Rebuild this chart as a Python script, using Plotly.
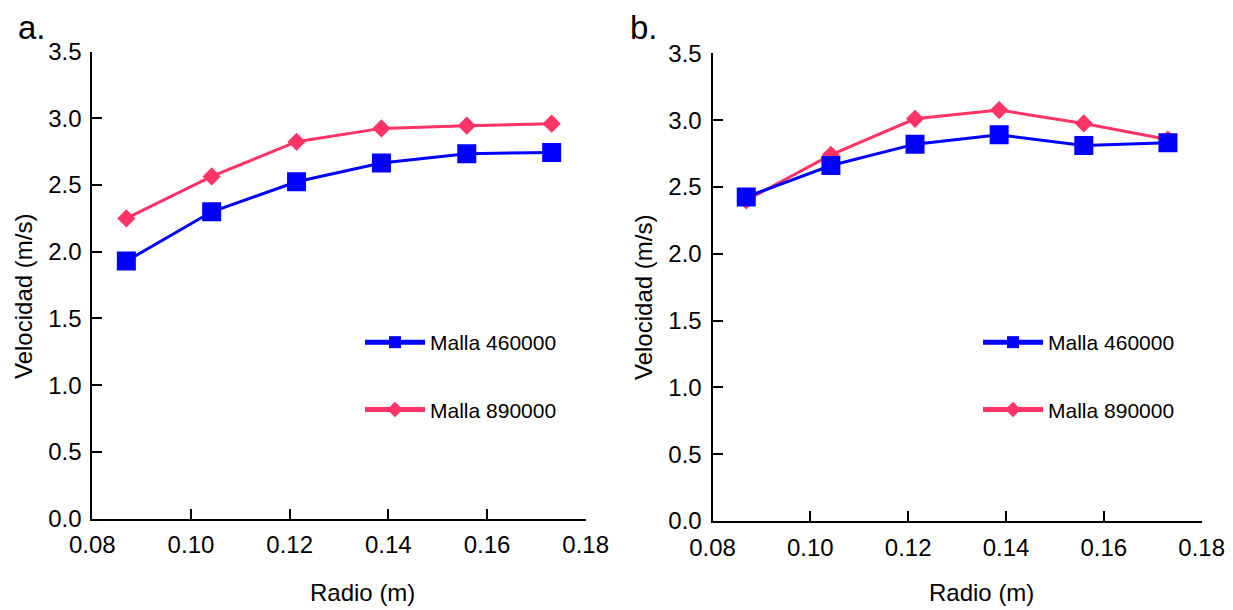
import plotly.graph_objects as go

# ---- data ----
radio = [0.0869, 0.1042, 0.1214, 0.1386, 0.1559, 0.1731]
a_460 = [1.93, 2.30, 2.525, 2.665, 2.735, 2.745]
a_890 = [2.25, 2.565, 2.825, 2.925, 2.945, 2.96]
b_460 = [2.425, 2.66, 2.82, 2.89, 2.81, 2.83]
b_890 = [2.40, 2.74, 3.01, 3.075, 2.975, 2.855]
names = ["Malla 460000", "Malla 890000"]
x_ticks = [0.08, 0.10, 0.12, 0.14, 0.16, 0.18]
y_ticks = [0.0, 0.5, 1.0, 1.5, 2.0, 2.5, 3.0, 3.5]

BLUE = "#0000FF"
RED = "#FF3366"
FONT = "Liberation Sans, Arial, sans-serif"
W, H = 1233, 610

fig = go.Figure()

def add_panel(ys460, ys890, xa, ya, leg):
    # red drawn first so the blue squares sit on top
    fig.add_trace(go.Scatter(
        x=radio, y=ys890, name=names[1], mode="lines+markers",
        line=dict(color=RED, width=3),
        marker=dict(symbol="diamond", size=14, color=RED),
        xaxis=xa, yaxis=ya, legend=leg, legendgroup=leg + "g2", legendrank=2))
    fig.add_trace(go.Scatter(
        x=radio, y=ys460, name=names[0], mode="lines+markers",
        line=dict(color=BLUE, width=3),
        marker=dict(symbol="square", size=19, color=BLUE),
        xaxis=xa, yaxis=ya, legend=leg, legendgroup=leg + "g1", legendrank=1))

add_panel(a_460, a_890, "x", "y", "legend")
add_panel(b_460, b_890, "x2", "y2", "legend2")

ax_common = dict(
    showline=True, linecolor="black", linewidth=2,
    ticks="inside", ticklen=10, tickwidth=2, tickcolor="black",
    showgrid=False, zeroline=False, automargin=False,
    tickfont=dict(family=FONT, size=24, color="black"),
)

fig.update_layout(
    template="none",
    width=W, height=H,
    margin=dict(l=0, r=0, t=0, b=0, pad=0, autoexpand=False),
    paper_bgcolor="white", plot_bgcolor="white",
    font=dict(family=FONT, color="black"),
    xaxis=dict(domain=[92.3 / W, 585.7 / W], range=[0.08, 0.18],
               tickvals=x_ticks, ticktext=[f"{v:.2f}" for v in x_ticks],
               anchor="y", ticklabelstandoff=4, **ax_common),
    yaxis=dict(domain=[1 - 518.5 / H, 1 - 51.7 / H], range=[0, 3.5],
               tickvals=y_ticks, ticktext=[f"{v:.1f}" for v in y_ticks],
               anchor="x", ticklabelstandoff=4, **ax_common),
    xaxis2=dict(domain=[712.5 / W, 1201.7 / W], range=[0.08, 0.18],
                tickvals=x_ticks, ticktext=[f"{v:.2f}" for v in x_ticks],
                anchor="y2", ticklabelstandoff=4, **ax_common),
    yaxis2=dict(domain=[1 - 521 / H, 1 - 53.3 / H], range=[0, 3.5],
                tickvals=y_ticks, ticktext=[f"{v:.1f}" for v in y_ticks],
                anchor="x2", ticklabelstandoff=4, **ax_common),
    legend=dict(x=360 / W, y=1 - 322 / H, xanchor="left", yanchor="top",
                bgcolor="rgba(0,0,0,0)", font=dict(family=FONT, size=21),
                itemsizing="constant", itemwidth=60, tracegroupgap=37,
                traceorder="grouped"),
    legend2=dict(x=978 / W, y=1 - 322 / H, xanchor="left", yanchor="top",
                 bgcolor="rgba(0,0,0,0)", font=dict(family=FONT, size=21),
                 itemsizing="constant", itemwidth=60, tracegroupgap=37,
                 traceorder="grouped"),
    showlegend=True,
)

annos = [
    dict(text="a.", x=32 / W, y=1 - 28 / H, font=dict(size=33)),
    dict(text="b.", x=644 / W, y=1 - 28 / H, font=dict(size=33)),
    dict(text="Radio (m)", x=363 / W, y=1 - 592 / H, font=dict(size=24)),
    dict(text="Radio (m)", x=982 / W, y=1 - 592 / H, font=dict(size=24)),
    dict(text="Velocidad (m/s)", x=24 / W, y=1 - 297 / H, font=dict(size=24), textangle=-90),
    dict(text="Velocidad (m/s)", x=644 / W, y=1 - 298 / H, font=dict(size=24), textangle=-90),
]
for a in annos:
    a["font"]["family"] = FONT
    a["font"]["color"] = "black"
    fig.add_annotation(xref="paper", yref="paper", showarrow=False,
                       xanchor="center", yanchor="middle", **a)

fig.write_html("out.html")
